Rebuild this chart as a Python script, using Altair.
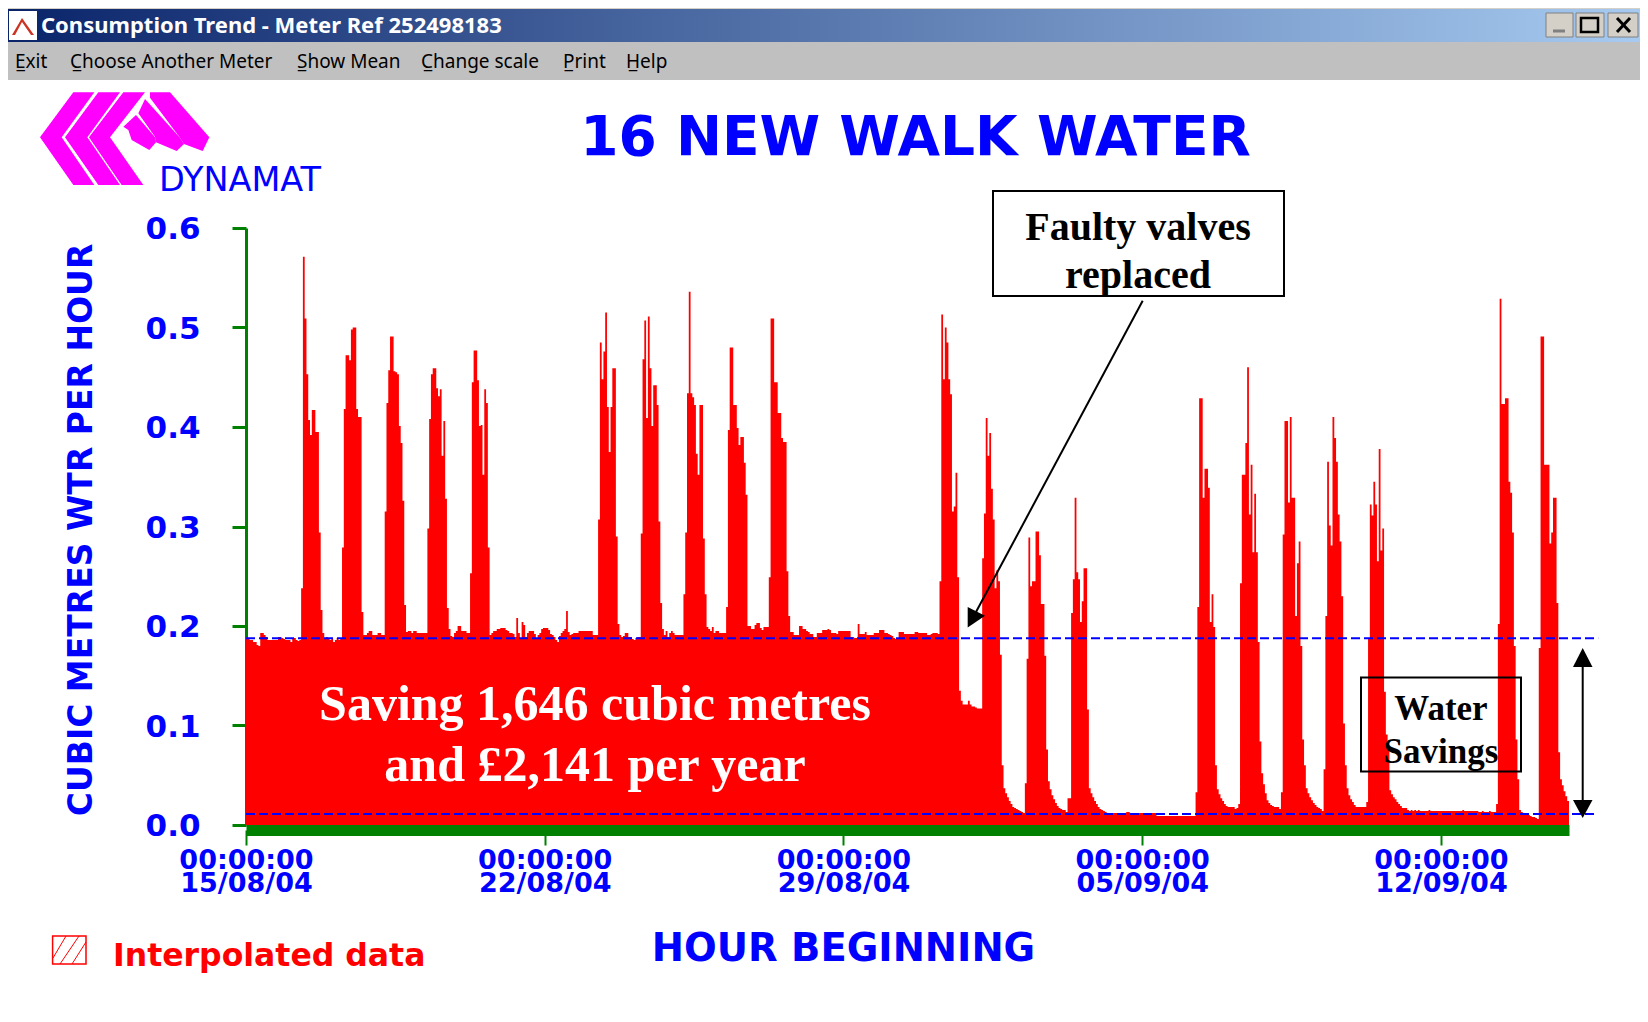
import altair as alt
import pandas as pd

# Hourly readings, grouped in runs keyed by the first hour after 00:00 15/08/04
run_000 = [.189,.187,.186,.186,.184,.184,.181,.180,.193,.193,.191,.189,.186,.186,.186,.186,.186,.186,.189,.189,.188,.187,.186,.186,.186,.184,.187,.188,.186,.185,.186]
run_031 = [.238,.571,.509,.453,.407,.392,.417,.417,.395,.395,.294,.216,.193,.187,.189,.187,.186,.187,.184,.186,.188,.186,.187]
run_054 = [.279,.418,.472,.472,.467,.498,.500,.500,.418,.410,.410,.214,.191,.191,.193,.195,.195,.191,.191,.191,.193,.193,.191,.191]
run_078 = [.315,.424,.457,.491,.491,.456,.455,.453,.401,.384,.326,.221,.194,.195,.195,.193,.195,.195,.193,.193,.193,.193,.193,.193]
run_102 = [.298,.408,.453,.459,.459,.439,.431,.438,.371,.406,.328,.218,.197,.190,.189,.193,.195,.200,.200,.195,.195,.195,.193,.193]
run_126 = [.253,.445,.477,.477,.447,.401,.402,.352,.438,.424,.279,.191]
run_138 = [.193,.195,.195,.197,.197,.198,.198,.198,.196,.195,.193,.193,.192,.189,.208,.193,.188,.204,.201,.189,.193,.195,.195,.195,.192,.188,.191,.193,.197,.198,.198,.198,.196,.192,.191,.189,.186,.184,.190,.193,.195,.197,.215,.194,.191,.192,.193,.193,.193,.195,.195,.195,.195,.195,.195,.195,.195,.191,.191,.191]
run_198 = [.307,.485,.448,.476,.515,.420,.375,.420,.459,.459,.290,.202,.191,.189,.190,.193,.193,.189,.189,.187,.186,.188,.189,.189]
run_222 = [.293,.468,.507,.409,.511,.459,.401,.442,.442,.422,.305,.223,.197,.191,.195,.189,.193,.195,.193,.191,.191,.191,.191,.191]
run_246 = [.232,.294,.434,.536,.434,.430,.422,.373,.352,.422,.422,.288,.232,.199,.197,.195,.199,.193,.195,.195,.193,.193,.193,.193]
run_270 = [.219,.397,.480,.480,.422,.422,.399,.382,.390,.390,.364,.332,.200,.200,.197,.197,.201,.203,.203,.198,.196,.199,.199,.199]
run_294 = [.249,.509,.509,.445,.445,.414,.414,.389,.385,.385,.255,.210]
run_306 = [.194,.194,.191,.191,.191,.200,.200,.197,.197,.195,.194,.192,.192,.189,.189,.193,.193,.193,.196,.196,.196,.197,.196,.193,.193,.193,.192,.195,.195,.195,.195,.195,.195,.195,.189,.189,.188,.188,.202,.192,.192,.192,.194,.191,.191,.191,.191,.193,.193,.193,.196,.196,.196,.193,.193,.192,.191,.190,.188,.187,.187,.194,.194,.194,.192,.192,.192,.192,.192,.192,.194,.194,.193,.193,.193,.193,.193,.191,.191,.192,.193,.193,.193,.192]
run_390 = [.245,.513,.448,.500,.485,.448,.433,.315,.320,.354,.249,.135,.125,.121,.121,.121,.125,.121,.119,.119,.118,.117,.117,.117]
run_414 = [.268,.313,.409,.371,.394,.338,.307,.238,.256,.245,.171,.060,.037,.032,.028,.024,.021,.018,.017,.016,.015,.014,.013,.012]
run_438 = [.042,.167,.289,.240,.245,.245,.295,.295,.271,.222,.222,.170,.076,.044,.036,.030,.026,.022,.019,.017,.016,.015,.015,.013]
run_462 = [.027,.027,.213,.247,.329,.254,.247,.204,.225,.258,.258,.116,.037,.032,.028,.024,.021,.018,.016,.015,.014,.013,.012]
run_485 = [.012,.012,.012,.012,.012,.012,.012,.012,.012,.012,.013,.013,.012,.012,.012,.012,.012,.012,.012,.012,.012,.012,.012,.012,.012,.012,.012,.009,.009,.009,.009,.009,.009,.009,.009,.009,.009,.009,.009,.009,.009,.009,.009,.009,.009,.009,.009,.009,.009]
run_534 = [.033,.219,.429,.429,.329,.358,.358,.339,.204,.232,.199,.060,.036,.031,.027,.024,.021,.019,.018,.018,.018,.018,.016,.017]
run_558 = [.021,.243,.352,.352,.384,.460,.312,.362,.274,.333,.274,.184,.084,.052,.041,.032,.025,.022,.020,.019,.018,.018,.018,.016]
run_582 = [.033,.292,.406,.406,.324,.410,.329,.329,.210,.263,.285,.180,.086,.060,.037,.032,.028,.025,.022,.020,.018,.017,.016,.014]
run_606 = [.056,.210,.365,.301,.281,.410,.389,.365,.312,.285,.230,.102,.060,.037,.030,.026,.023,.020,.018,.018,.018,.018,.018,.018,.023]
run_631 = [.188,.322,.311,.345,.322,.265,.378,.276,.298,.134,.091,.078,.035,.031,.028,.026,.023,.021,.019,.017,.017,.017,.015]
run_654 = [.014,.015,.014,.015,.014,.015,.014,.014,.014,.014,.014,.015,.014,.014,.014,.014,.014,.014,.014,.014,.014,.014,.014,.014,.014,.014,.014,.014,.014,.014,.015,.014,.014,.014,.014,.014,.014,.014,.014,.013,.013,.014,.013,.013,.013,.014,.013,.013,.013]
run_703 = [.021,.202,.529,.423,.423,.429,.429,.345,.334,.294,.180,.086,.046,.015,.013,.012,.012,.011,.010,.009,.008,.008,.007,.006]
run_727 = [.178,.491,.491,.362,.362,.362,.283,.294,.329,.329,.223,.073,.046,.040,.034,.029,.024]

runs = [(0,run_000),(31,run_031),(54,run_054),(78,run_078),(102,run_102),(126,run_126),(138,run_138),
        (198,run_198),(222,run_222),(246,run_246),(270,run_270),(294,run_294),(306,run_306),(390,run_390),
        (414,run_414),(438,run_438),(462,run_462),(485,run_485),(534,run_534),(558,run_558),(582,run_582),
        (606,run_606),(631,run_631),(654,run_654),(703,run_703),(727,run_727)]

tick_hours = [0, 168, 336, 504, 672]
tick_dates = ["15/08/04", "22/08/04", "29/08/04", "05/09/04", "12/09/04"]
y_ticks = [0.0, 0.1, 0.2, 0.3, 0.4, 0.5, 0.6]
mean_levels = [0.1876, 0.011]
mean_ends = [760.4, 758.4]

rows = {}
for start, vals in runs:
    for i, v in enumerate(vals):
        rows[start + i] = v
rows[744] = rows[743]
df = pd.DataFrame({"hour": sorted(rows), "value": [rows[k] for k in sorted(rows)]})

X0, Y0 = 246, 228
BLUE, RED, GREEN = "#0000FF", "#FF0000", "#008000"
SANS, SERIF = "DejaVu Sans", "Liberation Serif"
one = pd.DataFrame({"a": [0]})


def text(t, x, y, size, color="black", font=SERIF, weight="bold", align="center", angle=0):
    return alt.Chart(one).mark_text(font=font, fontSize=size, fontWeight=weight, color=color,
                                    align=align, baseline="middle", angle=angle).encode(
        x=alt.value(x - X0), y=alt.value(y - Y0), text=alt.value(t))


def rect(x1, y1, x2, y2, **kw):
    return alt.Chart(one).mark_rect(**kw).encode(
        x=alt.value(x1 - X0), x2=alt.value(x2 - X0), y=alt.value(y1 - Y0), y2=alt.value(y2 - Y0))


def line(x1, y1, x2, y2, color="black", width=2):
    return alt.Chart(one).mark_rule(color=color, strokeWidth=width).encode(
        x=alt.value(x1 - X0), x2=alt.value(x2 - X0), y=alt.value(y1 - Y0), y2=alt.value(y2 - Y0))


def poly(points, color):
    path = "M" + " L".join(f"{x - X0} {y - Y0}" for x, y in points) + " Z"
    return alt.Chart(one).mark_point(shape=path, size=4, filled=True, color=color, opacity=1, strokeWidth=0).encode(
        x=alt.value(0), y=alt.value(0))


def logo(points):
    return poly([(30 + x / 3, 85 + y / 3) for x, y in points], "#FF00FF")


label_expr = "['00:00:00', " + str(tick_dates) + "[datum.value / 168]]"

area = alt.Chart(df).mark_area(interpolate="step-after", color=RED, opacity=1).encode(
    x=alt.X("hour:Q", scale=alt.Scale(domain=[0, 744], nice=False, zero=False),
            axis=alt.Axis(values=tick_hours, grid=False, offset=5, domainColor=GREEN, domainWidth=11,
                          tickColor=GREEN, tickWidth=2, tickSize=15, labelExpr=label_expr,
                          labelFont=SANS, labelFontWeight="bold", labelFontSize=27, labelColor=BLUE,
                          labelLineHeight=23, labelPadding=2, labelOverlap=False, labelFlush=False,
                          title="HOUR BEGINNING", titleFont=SANS, titleFontSize=38.5, titleFontWeight="bold",
                          titleColor=BLUE, titleX=597, titleY=118, titleBaseline="middle", titleAlign="center")),
    y=alt.Y("value:Q", stack=None, scale=alt.Scale(domain=[0, 0.6], nice=False),
            axis=alt.Axis(values=y_ticks, format=".1f", grid=False, domainColor=GREEN, domainWidth=3,
                          tickColor=GREEN, tickWidth=3, tickSize=14, labelFont=SANS, labelFontWeight="bold",
                          labelFontSize=31, labelColor=BLUE, labelPadding=32, labelOffset=1.5,
                          title="CUBIC METRES WTR PER HOUR", titleFont=SANS, titleFontSize=33,
                          titleFontWeight="bold", titleColor=BLUE, titleAngle=270, titleX=-165, titleY=301.5,
                          titleBaseline="middle", titleAlign="center")),
)

means = alt.Chart(pd.DataFrame({"level": mean_levels, "start": [0, 0], "end": mean_ends})).mark_rule(
    color=BLUE, strokeWidth=2, strokeDash=[9, 4]).encode(
    x=alt.X("start:Q", scale=alt.Scale(domain=[0, 744], nice=False, zero=False)), x2="end:Q",
    y=alt.Y("level:Q", scale=alt.Scale(domain=[0, 0.6], nice=False)))

layers = [
    # window frame
    rect(0, 0, 1640, 9, fill="#D4D0C8"),
    rect(8, 9, 1640, 42, fill=alt.Gradient(gradient="linear", x1=0, x2=1, y1=0, y2=0,
                                           stops=[alt.GradientStop(offset=0, color="#0A246A"),
                                                  alt.GradientStop(offset=1, color="#A6CAF0")])),
    rect(8, 42, 1640, 80, fill="#C0C0C0"),
    rect(8, 1013, 1640, 1014, fill="#D4D0C8"),
    rect(9, 11, 37, 40, fill="white"),
    poly([(12, 35), (22, 18), (34, 35), (31, 35), (22, 22), (15, 35)], "#CC3322"),
    text("Consumption Trend - Meter Ref 252498183", 41, 26, 22, "white", "Noto Sans", "bold", "left"),
    text("E\u0332xit", 15, 62, 19, "black", "Noto Sans", "normal", "left"),
    text("C\u0332hoose Another Meter", 70, 62, 19, "black", "Noto Sans", "normal", "left"),
    text("S\u0332how Mean", 297, 62, 19, "black", "Noto Sans", "normal", "left"),
    text("C\u0332hange scale", 421, 62, 19, "black", "Noto Sans", "normal", "left"),
    text("P\u0332rint", 563, 62, 19, "black", "Noto Sans", "normal", "left"),
    text("H\u0332elp", 626, 62, 19, "black", "Noto Sans", "normal", "left"),
    # window buttons
    rect(1546, 13, 1573, 37, fill="#D4D0C8", stroke="#808080", strokeWidth=1),
    rect(1576, 13, 1604, 37, fill="#D4D0C8", stroke="#808080", strokeWidth=1),
    rect(1608, 13, 1638, 37, fill="#D4D0C8", stroke="#808080", strokeWidth=1),
    line(1553, 31, 1565, 31, "#808080", 3),
    rect(1581, 18, 1598, 32, stroke="black", strokeWidth=2.5, fillOpacity=0),
    line(1617, 18, 1630, 32, "black", 3),
    line(1630, 18, 1617, 32, "black", 3),
    # logo
    logo([(130, 22), (193, 22), (95, 157), (193, 300), (130, 300), (30, 157)]),
    logo([(205, 22), (270, 22), (172, 157), (270, 300), (205, 300), (105, 157)]),
    logo([(280, 22), (345, 22), (240, 157), (340, 300), (275, 300), (177, 157)]),
    logo([(360, 22), (420, 22), (538, 157), (518, 198), (462, 177), (450, 158), (360, 38)]),
    logo([(345, 42), (450, 158), (462, 177), (440, 198), (378, 172), (375, 155), (325, 85)]),
    logo([(318, 90), (375, 157), (378, 172), (358, 195), (305, 165), (295, 135), (280, 125)]),
    text("DYNAMAT", 159, 181, 33.5, BLUE, SANS, "normal", "left"),
    text("16 NEW WALK WATER", 915.5, 138, 55, BLUE, SANS),
    # chart
    area,
    means,
    text("Saving 1,646 cubic metres", 595, 705, 50, "white"),
    text("and £2,141 per year", 595, 766, 50, "white"),
    # annotations
    rect(993, 191, 1284, 296, stroke="black", strokeWidth=2, fillOpacity=0),
    text("Faulty valves", 1138, 228, 40),
    text("replaced", 1138, 276, 40),
    line(1142.7, 300.7, 976, 612),
    poly([(967.7, 627.5), (967.7, 607), (985, 615.7)], "black"),
    rect(1361, 677.5, 1521, 771.6, stroke="black", strokeWidth=2, fillOpacity=0),
    text("Water", 1441, 709, 35),
    text("Savings", 1441, 752, 35),
    line(1582.7, 660, 1582.7, 805),
    poly([(1582.7, 648), (1573, 667), (1592.5, 667)], "black"),
    poly([(1582.7, 818), (1573, 800), (1592.5, 800)], "black"),
    # legend
    rect(52.6, 936, 86, 964, stroke=RED, strokeWidth=1.5, fillOpacity=0),
    line(53, 958, 66, 936, RED, 1),
    line(60, 964, 79, 936, RED, 1),
    line(72, 964, 86, 942, RED, 1),
    text("Interpolated data", 113, 957, 31.5, RED, SANS, "bold", "left"),
]

chart = alt.layer(*layers).properties(
    width=1323, height=597,
    autosize=alt.AutoSizeParams(type="none"),
    padding={"left": 238, "top": 220, "right": 71, "bottom": 186},
    background="white",
).configure_view(stroke=None)

chart.save("out.html", embed_options={"renderer": "svg", "actions": False})
